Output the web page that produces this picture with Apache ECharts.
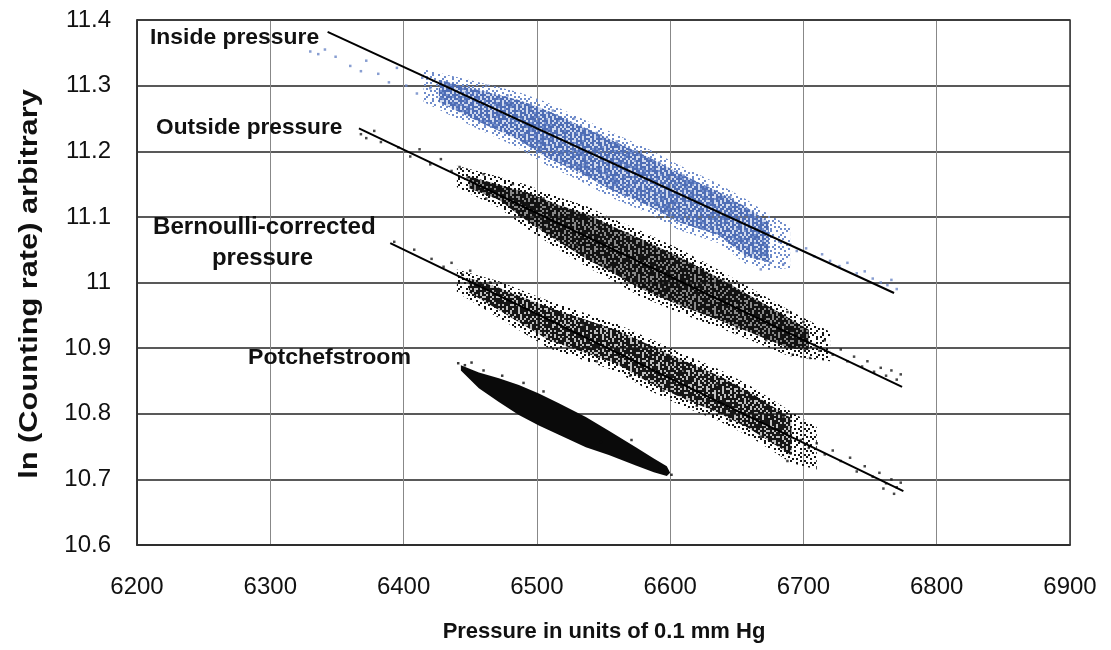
<!DOCTYPE html>
<html>
<head>
<meta charset="utf-8">
<script src="https://cdn.jsdelivr.net/npm/echarts@6/dist/echarts.min.js"></script>
<style>
  html, body { margin: 0; padding: 0; background: #fff; }
  #chart { width: 1111px; height: 650px; }
</style>
</head>
<body>
<div id="chart"></div>
<script>
// Axis ranges (pressure in 0.1 mm Hg, ln counting rate)
const xRange = [6200, 6900];
const yRange = [10.6, 11.4];

// Fitted regression lines: [pressure, ln rate] end points
const insideLine = [[6343, 11.382], [6768, 10.984]];
const outsideLine = [[6366.5, 11.235], [6774, 10.841]];
const bernoulliLine = [[6390, 11.060], [6775, 10.682]];

// Outlines of the dense cores of each measurement cloud
const insideCore = [
  [6426.5, 11.309], [6456.5, 11.293], [6486.5, 11.278], [6507, 11.263], [6531.5, 11.240],
  [6556, 11.217], [6584, 11.191], [6606.5, 11.167], [6636.5, 11.138], [6657, 11.115], [6674, 11.092],
  [6674, 11.031], [6657, 11.040], [6636.5, 11.072], [6606.5, 11.092], [6584, 11.117],
  [6556, 11.141], [6531.5, 11.168], [6507, 11.191], [6486.5, 11.217], [6456.5, 11.245], [6426.5, 11.275]
];
const insideHalo = [
  [6415, 11.325], [6456.5, 11.305], [6486.5, 11.290], [6507, 11.275], [6531.5, 11.252], [6556, 11.229],
  [6584, 11.203], [6606.5, 11.179], [6636.5, 11.150], [6657, 11.127], [6674, 11.104], [6690, 11.085],
  [6690, 11.022], [6674, 11.019], [6657, 11.028], [6636.5, 11.060], [6606.5, 11.080], [6584, 11.105],
  [6556, 11.129], [6531.5, 11.156], [6507, 11.179], [6486.5, 11.205], [6456.5, 11.233], [6415, 11.275]
];
const outsideCore = [
  [6449, 11.162], [6471.5, 11.149], [6494, 11.136], [6516.5, 11.118], [6539, 11.103], [6556, 11.086],
  [6576.5, 11.068], [6609, 11.037], [6636.5, 11.007], [6659, 10.981], [6689, 10.946], [6704, 10.928],
  [6704, 10.897], [6689, 10.900], [6659, 10.925], [6636.5, 10.943], [6609, 10.964], [6576.5, 10.992],
  [6556, 11.016], [6539, 11.034], [6516.5, 11.062], [6494, 11.092], [6471.5, 11.126], [6449, 11.144]
];
const outsideHalo = [
  [6440, 11.178], [6471.5, 11.161], [6494, 11.148], [6516.5, 11.130], [6539, 11.115], [6556, 11.098],
  [6576.5, 11.080], [6609, 11.049], [6636.5, 11.019], [6659, 10.993], [6689, 10.958], [6720, 10.925],
  [6720, 10.880], [6689, 10.888], [6659, 10.913], [6636.5, 10.931], [6609, 10.952], [6576.5, 10.980],
  [6556, 11.004], [6539, 11.022], [6516.5, 11.050], [6494, 11.080], [6471.5, 11.114], [6440, 11.145]
];
const bernoulliCore = [
  [6449, 11.007], [6471.5, 10.992], [6509, 10.962], [6559, 10.928], [6584, 10.905], [6609, 10.882],
  [6636.5, 10.858], [6659, 10.834], [6691, 10.793],
  [6691, 10.737], [6659, 10.778], [6636.5, 10.801], [6609, 10.824], [6584, 10.848], [6559, 10.877],
  [6509, 10.912], [6471.5, 10.958], [6449, 10.985]
];
const bernoulliHalo = [
  [6440, 11.020], [6471.5, 11.002], [6509, 10.972], [6559, 10.938], [6584, 10.915], [6609, 10.892],
  [6636.5, 10.868], [6659, 10.844], [6691, 10.803], [6710, 10.780],
  [6710, 10.715], [6691, 10.725], [6659, 10.766], [6636.5, 10.789], [6609, 10.812], [6584, 10.836],
  [6559, 10.865], [6509, 10.900], [6471.5, 10.946], [6440, 10.985]
];
const potchCore = [
  [6443, 10.874], [6456.5, 10.863], [6471.5, 10.854], [6486.5, 10.844], [6501.5, 10.831],
  [6516.5, 10.816], [6536.75, 10.795], [6554, 10.774], [6574.25, 10.749], [6587.75, 10.732],
  [6597.5, 10.720], [6600, 10.710],
  [6597.5, 10.705], [6587.75, 10.711], [6574.25, 10.721], [6554, 10.737], [6536.75, 10.749],
  [6516.5, 10.768], [6501.5, 10.782], [6486.5, 10.798], [6471.5, 10.818], [6456.5, 10.839], [6443, 10.866]
];

// Individual readings outside the dense cores
const insidePoints = [
  [6330, 11.352], [6336, 11.348], [6341, 11.355], [6349, 11.344], [6360, 11.330], [6368, 11.322],
  [6372, 11.338], [6381, 11.318], [6389, 11.305], [6395, 11.327], [6402, 11.300], [6410, 11.288],
  [6414, 11.312], [6420, 11.296], [6428, 11.281], [6433, 11.302], [6440, 11.270], [6447, 11.290],
  [6462, 11.300], [6478, 11.285], [6495, 11.270], [6512, 11.262], [6528, 11.250], [6545, 11.228],
  [6560, 11.215], [6575, 11.200], [6592, 11.183], [6610, 11.163], [6628, 11.148], [6645, 11.130],
  [6470, 11.240], [6490, 11.225], [6515, 11.200], [6535, 11.180], [6552, 11.165], [6570, 11.148],
  [6590, 11.125], [6612, 11.108], [6630, 11.085], [6648, 11.065], [6662, 11.045], [6675, 11.030],
  [6685, 11.028], [6668, 11.020],
  [6682, 11.062], [6690, 11.058], [6695, 11.048], [6702, 11.052], [6708, 11.040], [6714, 11.043],
  [6720, 11.033], [6727, 11.025], [6733, 11.030], [6740, 11.014], [6746, 11.017], [6752, 11.006],
  [6758, 11.000], [6763, 10.996], [6766, 11.004], [6770, 10.990]
];
const outsidePoints = [
  [6368, 11.226], [6372, 11.220], [6378, 11.231], [6383, 11.214], [6396, 11.206], [6405, 11.192],
  [6412, 11.203], [6420, 11.180], [6428, 11.188], [6436, 11.170], [6442, 11.176], [6448, 11.160],
  [6460, 11.165], [6482, 11.150], [6505, 11.128], [6525, 11.110], [6548, 11.090], [6568, 11.075],
  [6590, 11.050], [6615, 11.028], [6640, 11.005], [6665, 10.980], [6688, 10.955], [6700, 10.940],
  [6462, 11.128], [6485, 11.110], [6508, 11.082], [6530, 11.058], [6555, 11.025], [6575, 11.005],
  [6600, 10.975], [6625, 10.955], [6650, 10.930], [6672, 10.912], [6692, 10.890], [6705, 10.885],
  [6708, 10.905], [6712, 10.896], [6716, 10.912], [6722, 10.890], [6728, 10.898], [6733, 10.880],
  [6738, 10.887], [6744, 10.872], [6748, 10.880], [6753, 10.864], [6758, 10.870], [6762, 10.858],
  [6766, 10.866], [6770, 10.852], [6773, 10.860]
];
const bernoulliPoints = [
  [6393, 11.062], [6408, 11.050], [6421, 11.036], [6430, 11.024], [6436, 11.030], [6444, 11.012],
  [6450, 11.018], [6456, 11.005],
  [6465, 11.000], [6488, 10.982], [6512, 10.958], [6535, 10.935], [6560, 10.912], [6585, 10.890],
  [6610, 10.866], [6635, 10.845], [6660, 10.822], [6685, 10.795],
  [6470, 10.965], [6495, 10.940], [6520, 10.915], [6545, 10.880], [6570, 10.858], [6595, 10.835],
  [6620, 10.812], [6645, 10.790], [6668, 10.765], [6690, 10.740], [6688, 10.728],
  [6698, 10.760], [6704, 10.748], [6710, 10.755], [6716, 10.738], [6722, 10.744], [6728, 10.728],
  [6735, 10.733], [6740, 10.712], [6746, 10.720], [6752, 10.704], [6757, 10.710], [6762, 10.694],
  [6766, 10.700], [6770, 10.688], [6773, 10.695], [6760, 10.686], [6768, 10.678]
];
const potchPoints = [
  [6441, 10.877], [6446, 10.874], [6451, 10.878], [6460, 10.866], [6474, 10.858], [6490, 10.847],
  [6505, 10.834], [6548, 10.757], [6571, 10.760], [6592, 10.716], [6601, 10.707]
];

const FONT = '"Liberation Sans", Arial, sans-serif';

// Speckle tiles used to texture the point clouds ('#' = ink)
const DENSE_MASK = [
  '#.##.#..###.#.', '.##.###.#.##.#', '#.#..##.##.#.#', '##.##.#..#.###',
  '.#.#.###.##.#.', '#.###..#.#.##.', '##.#.##.#.##.#', '.#.##.#.###.##',
  '#.#..###.#..#.', '##.##.#.##.##.', '.###.#.#..###.', '#.#.##.##.#.##',
  '.##..#.#.##.#.', '#.#.###.#.#.##'
];
const SPARSE_MASK = [
  '#....#...#...', '..#.....#...#', '.#...#.#.....', '....#.....#.#',
  '#.#....#.....', '...#.#....#..', '.#.....#.#..#', '#...#.....#..',
  '..#...#.#....', '.....#....#.#', '#.#.#...#....', '...#....#..#.',
  '.#...#.#.....'
];

function speckle(mask, color, cell) {
  const c = document.createElement('canvas');
  c.width = mask[0].length * cell;
  c.height = mask.length * cell;
  const ctx = c.getContext('2d');
  ctx.fillStyle = color;
  mask.forEach(function (row, r) {
    for (let k = 0; k < row.length; k++) {
      if (row[k] === '#') ctx.fillRect(k * cell, r * cell, cell, cell);
    }
  });
  return { image: c, repeat: 'repeat' };
}

// Filled band drawn through the chart's own coordinate system
function bandSeries(outline, fill) {
  return {
    type: 'custom',
    coordinateSystem: 'cartesian2d',
    silent: true,
    data: [0],
    renderItem: function (params, api) {
      const pts = outline.map(function (p) { return api.coord(p); });
      return {
        type: 'polygon',
        shape: { points: pts, smooth: 0 },
        style: { fill: fill }
      };
    },
    z: 2
  };
}

function dotSeries(points, color, size) {
  return {
    type: 'scatter',
    data: points,
    symbol: 'rect',
    symbolSize: size,
    itemStyle: { color: color },
    silent: true,
    z: 3
  };
}

function fitSeries(points) {
  return {
    type: 'line',
    data: points,
    symbol: 'none',
    lineStyle: { color: '#000', width: 2 },
    silent: true,
    z: 4
  };
}

function note(text, x, cy, size, sx) {
  return {
    type: 'text', x: x, y: cy, scaleX: sx || 1, z: 10, silent: true,
    style: { text: text, font: 'bold ' + size + 'px ' + FONT, fill: '#111',
             textVerticalAlign: 'middle' }
  };
}

const chart = echarts.init(document.getElementById('chart'), null, { renderer: 'canvas' });

chart.setOption({
  animation: false,
  backgroundColor: '#fff',
  grid: { left: 137, right: 41, top: 20, bottom: 105 },
  xAxis: {
    type: 'value',
    min: xRange[0], max: xRange[1], interval: 100,
    axisLine: { show: true, lineStyle: { color: '#111', width: 1.5 } },
    axisTick: { show: false },
    axisLabel: { margin: 30, fontFamily: FONT, fontSize: 24, color: '#111',
                 formatter: function (v) { return String(v); } },
    splitLine: { show: true, lineStyle: { color: '#888', width: 1 } }
  },
  yAxis: {
    type: 'value',
    min: yRange[0], max: yRange[1], interval: 0.1,
    axisLine: { show: true, lineStyle: { color: '#111', width: 1.5 } },
    axisTick: { show: false },
    axisLabel: { margin: 26, fontFamily: FONT, fontSize: 24, color: '#111' },
    splitLine: { show: true, lineStyle: { color: '#222', width: 1.5 } }
  },
  graphic: [
    { type: 'rect', shape: { x: 137, y: 20, width: 933, height: 525 },
      style: { fill: 'none', stroke: '#333', lineWidth: 1.5 }, silent: true, z: 1 },
    // axis titles
    { type: 'text', x: 604, y: 632, z: 10, silent: true,
      style: { text: 'Pressure in units of 0.1 mm Hg', font: 'bold 22px ' + FONT, fill: '#111',
               textAlign: 'center', textVerticalAlign: 'middle' } },
    { type: 'text', x: 30, y: 284, rotation: Math.PI / 2, scaleX: 1.23, z: 10, silent: true,
      style: { text: 'ln (Counting rate) arbitrary', font: 'bold 25px ' + FONT, fill: '#111',
               textAlign: 'center', textVerticalAlign: 'middle' } },
    // series annotations
    note('Inside pressure', 150, 38, 22, 1.04),
    note('Outside pressure', 156, 128, 22, 1.03),
    note('Bernoulli-corrected', 153, 228, 23, 1.05),
    note('pressure', 212, 259, 23, 1.04),
    note('Potchefstroom', 248, 358, 22, 1.05)
  ],
  series: [
    bandSeries(insideHalo, speckle(SPARSE_MASK, '#6f8ccb', 2)),
    bandSeries(insideCore, 'rgba(120,146,206,0.35)'),
    bandSeries(insideCore, speckle(DENSE_MASK, '#4e6db5', 2)),
    bandSeries(outsideHalo, speckle(SPARSE_MASK, '#151515', 2)),
    bandSeries(outsideCore, 'rgba(20,20,20,0.5)'),
    bandSeries(outsideCore, speckle(DENSE_MASK, '#111', 2)),
    bandSeries(bernoulliHalo, speckle(SPARSE_MASK, '#151515', 2)),
    bandSeries(bernoulliCore, 'rgba(25,25,25,0.28)'),
    bandSeries(bernoulliCore, speckle(DENSE_MASK, '#151515', 2)),
    bandSeries(potchCore, '#0a0a0a'),
    dotSeries(insidePoints, '#6a86c6', 2.5),
    dotSeries(outsidePoints, '#1a1a1a', 2.5),
    dotSeries(bernoulliPoints, '#1a1a1a', 2.5),
    dotSeries(potchPoints, '#0a0a0a', 2.5),
    fitSeries(insideLine),
    fitSeries(outsideLine),
    fitSeries(bernoulliLine)
  ]
});
</script>
</body>
</html>
